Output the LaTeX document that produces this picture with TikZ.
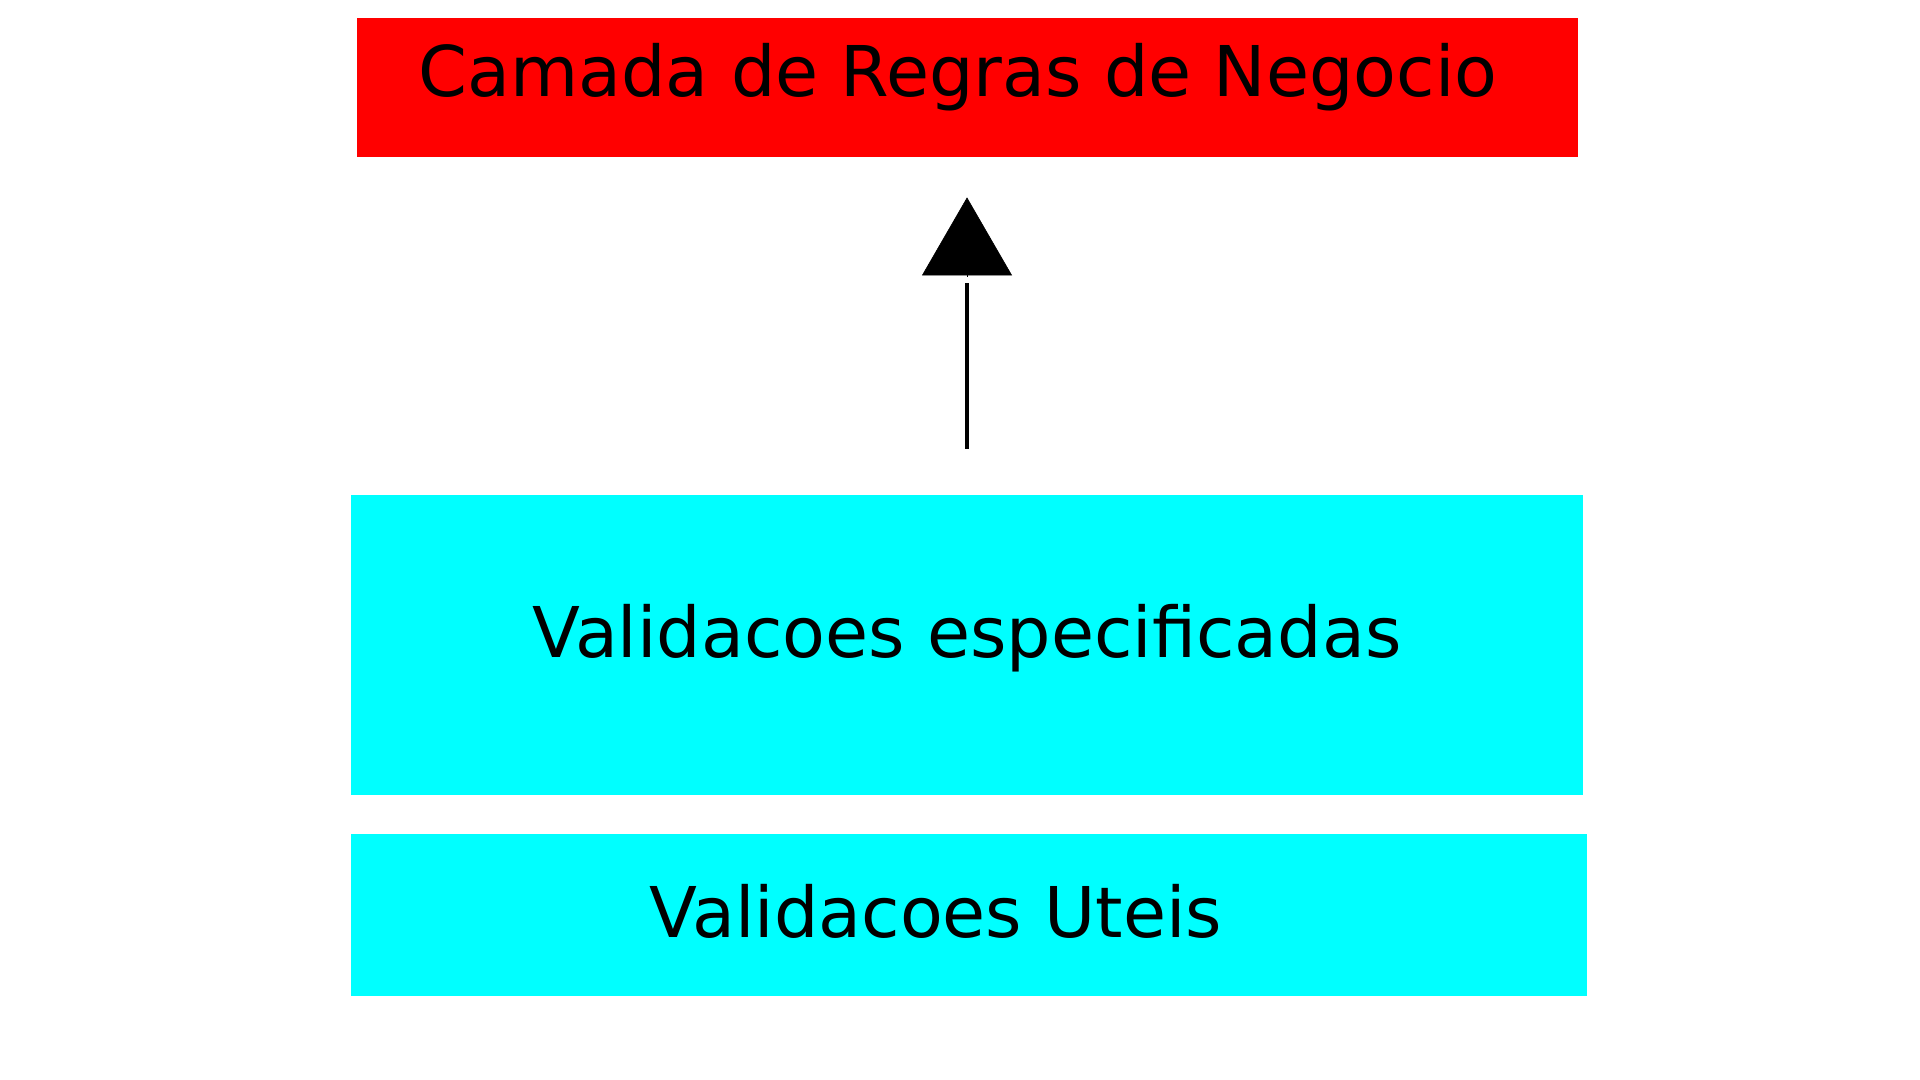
\documentclass[tikz,border=0pt]{standalone}
\usepackage{fontspec}
\setmainfont{DejaVu Sans}
\usetikzlibrary{positioning, arrows.meta}
\definecolor{regra}{RGB}{255,0,0}
\definecolor{valid}{RGB}{0,255,255}
\tikzset{
  camadabox/.style={fill=#1, draw=none, inner sep=0pt},
  rotulo/.style={anchor=base, inner sep=0pt, font=\fontsize{35pt}{42pt}\selectfont}
}
\begin{document}
\begin{tikzpicture}[x=0.5pt, y=-0.5pt]
      \useasboundingbox (0,0) rectangle (1920,1080);

      \node[camadabox=regra, minimum width=610.5pt, minimum height=69.5pt] (RN) at (967,87.5) {};
      \node[camadabox=valid, minimum width=616pt, minimum height=150pt] (VE) at (967,645) {};
      \node[camadabox=valid, minimum width=618pt, minimum height=81pt] (VU) at (969,915) {};

      \node[rotulo] (RNtxt) at (958,97) {Camada de Regras de Negocio};
      \node[rotulo] (VEtxt) at (967,657) {Validacoes especificadas};
      \node[rotulo] (VUtxt) at (936,937) {Validacoes Uteis};

      % haste e ponta separadas por um pequeno espaco
      \draw[line width=2pt, shorten <=23pt, shorten >=63pt] (VE) -- (RN);
      \draw[line width=0.3pt, shorten <=109pt, shorten >=20pt,
            -{Triangle[length=39pt, width=45pt]}] (VE) -- (RN);
    \end{tikzpicture}
\end{document}
